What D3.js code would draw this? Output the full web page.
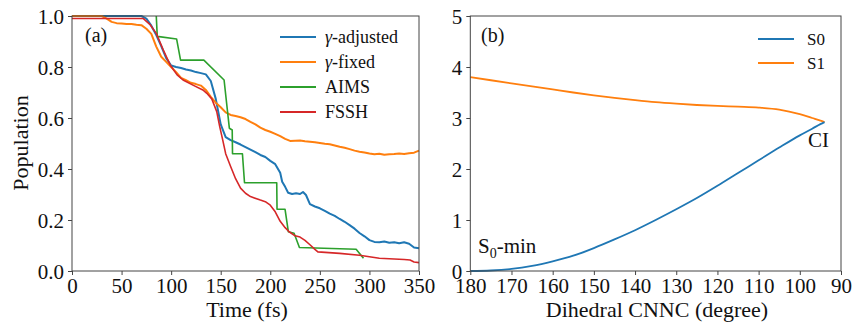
<!DOCTYPE html>
<html>
<head>
<meta charset="utf-8">
<script src="https://cdn.jsdelivr.net/npm/d3@7"></script>
<style>
  html, body { margin: 0; padding: 0; background: #fff; }
  svg { display: block; }
</style>
</head>
<body>
<svg id="chart" width="855" height="322" font-family="Liberation Serif"></svg>
<script>
// ---------- Panel (a): population vs time ----------
const popTicksX = [0, 50, 100, 150, 200, 250, 300, 350];
const popTicksY = [0.0, 0.2, 0.4, 0.6, 0.8, 1.0];

const adjustedTime = [0, 70, 75, 80, 85, 90, 95, 100, 105, 110, 115, 120, 125, 130, 135, 140, 145, 150, 155, 160, 165, 170, 175, 180, 185, 190, 195, 200, 205, 210, 212, 215, 218, 222, 226, 230, 233, 236, 240, 245, 250, 255, 260, 265, 270, 275, 280, 285, 290, 295, 300, 305, 310, 315, 320, 325, 330, 335, 340, 345, 350];
const adjustedPop  = [1.0, 1.0, 0.99, 0.962, 0.925, 0.882, 0.835, 0.806, 0.80, 0.796, 0.79, 0.786, 0.78, 0.776, 0.771, 0.745, 0.675, 0.575, 0.525, 0.513, 0.505, 0.496, 0.486, 0.476, 0.466, 0.455, 0.447, 0.432, 0.419, 0.385, 0.35, 0.33, 0.307, 0.302, 0.305, 0.302, 0.31, 0.298, 0.262, 0.253, 0.246, 0.236, 0.225, 0.216, 0.204, 0.193, 0.18, 0.166, 0.149, 0.136, 0.121, 0.114, 0.113, 0.116, 0.111, 0.113, 0.109, 0.113, 0.107, 0.092, 0.089];

const fixedTime = [0, 30, 35, 40, 45, 50, 55, 60, 65, 70, 75, 80, 85, 90, 95, 100, 105, 110, 115, 120, 125, 130, 135, 140, 145, 150, 155, 160, 165, 170, 175, 180, 185, 190, 195, 200, 205, 210, 215, 220, 225, 230, 235, 240, 245, 250, 255, 260, 265, 270, 275, 280, 285, 290, 295, 300, 305, 310, 315, 320, 325, 330, 335, 340, 345, 350];
const fixedPop  = [1.0, 1.0, 0.99, 0.977, 0.972, 0.971, 0.969, 0.969, 0.966, 0.964, 0.95, 0.93, 0.88, 0.84, 0.82, 0.80, 0.78, 0.757, 0.748, 0.738, 0.733, 0.727, 0.71, 0.683, 0.66, 0.642, 0.622, 0.612, 0.608, 0.603, 0.596, 0.585, 0.575, 0.562, 0.553, 0.546, 0.538, 0.529, 0.518, 0.51, 0.511, 0.512, 0.509, 0.507, 0.505, 0.502, 0.499, 0.497, 0.492, 0.487, 0.483, 0.478, 0.472, 0.468, 0.465, 0.461, 0.458, 0.46, 0.456, 0.458, 0.459, 0.461, 0.459, 0.462, 0.464, 0.472];

const aimsTime = [85, 86, 105.5, 109.5, 133, 153.4, 158.7, 161.6, 161.9, 171.9, 174, 206.5, 206.8, 214.9, 218.2, 224, 229.4, 286.6, 294];
const aimsPop  = [1.0, 0.92, 0.91, 0.827, 0.827, 0.749, 0.56, 0.553, 0.46, 0.46, 0.346, 0.346, 0.242, 0.242, 0.154, 0.148, 0.092, 0.085, 0.05];

const fsshTime = [0, 72, 79, 85, 92, 99, 106, 112, 122, 132, 136, 141, 146, 149, 152, 155, 160, 165, 170, 175, 180, 190, 195, 200, 205, 210, 215, 219, 225, 230, 235, 240, 245, 248, 270, 290, 300, 310, 320, 335, 341, 345, 350];
const fsshPop  = [0.99, 0.99, 0.965, 0.932, 0.867, 0.808, 0.769, 0.749, 0.729, 0.71, 0.697, 0.675, 0.625, 0.566, 0.514, 0.46, 0.41, 0.362, 0.325, 0.305, 0.292, 0.278, 0.272, 0.258, 0.232, 0.195, 0.17, 0.154, 0.138, 0.133, 0.12, 0.103, 0.085, 0.075, 0.069, 0.062, 0.056, 0.05, 0.048, 0.045, 0.043, 0.035, 0.033];

const popSeries = [
  { name: "adjusted", label: ["γ", "-adjusted"], color: "#1f77b4", width: 2.0, t: adjustedTime, v: adjustedPop },
  { name: "fixed",    label: ["γ", "-fixed"],    color: "#ff7f0e", width: 2.0, t: fixedTime,    v: fixedPop },
  { name: "AIMS",     label: [null, "AIMS"],     color: "#2ca02c", width: 1.6, t: aimsTime,     v: aimsPop },
  { name: "FSSH",     label: [null, "FSSH"],     color: "#d62728", width: 1.6, t: fsshTime,     v: fsshPop }
];

// ---------- Panel (b): energy vs dihedral ----------
const angleTicks = [180, 170, 160, 150, 140, 130, 120, 110, 100, 90];
const energyTicks = [0, 1, 2, 3, 4, 5];
const dihedral = [180, 175, 170, 165, 160, 155, 150, 145, 140, 135, 130, 125, 120, 115, 110, 105, 100, 97, 95, 94];
const energyS0 = [0.0, 0.01, 0.04, 0.1, 0.19, 0.3, 0.45, 0.62, 0.8, 1.0, 1.21, 1.43, 1.67, 1.92, 2.17, 2.42, 2.66, 2.79, 2.88, 2.92];
const energyS1 = [3.80, 3.74, 3.68, 3.62, 3.56, 3.50, 3.445, 3.395, 3.35, 3.31, 3.28, 3.255, 3.237, 3.222, 3.205, 3.165, 3.075, 3.0, 2.95, 2.92];

const SERIF = "Liberation Serif";
const svg = d3.select("#chart");
const axisColor = "#444";

// text helper: every label uses the serif face
function label(parent, x, y, size, str) {
  const t = parent.append("text")
    .attr("x", x).attr("y", y)
    .attr("font-family", SERIF).attr("font-size", size).attr("fill", "#111");
  if (str != null) t.text(str);
  return t;
}

function frame(g, x0, x1, y0, y1) {
  g.append("rect")
    .attr("x", x0).attr("y", y1)
    .attr("width", x1 - x0).attr("height", y0 - y1)
    .attr("fill", "none").attr("stroke", axisColor).attr("stroke-width", 1);
}

function drawAxes(g, x, y, xTicks, yTicks, xFmt, yFmt) {
  const [y0] = y.range();
  const [x0] = x.range();
  const ax = g.append("g").attr("transform", `translate(0,${y0})`)
    .call(d3.axisBottom(x).tickValues(xTicks).tickFormat(xFmt).tickSizeOuter(0).tickSize(4).tickPadding(3));
  const ay = g.append("g").attr("transform", `translate(${x0},0)`)
    .call(d3.axisLeft(y).tickValues(yTicks).tickFormat(yFmt).tickSizeOuter(0).tickSize(4).tickPadding(4));
  [ax, ay].forEach(a => {
    a.attr("font-family", SERIF).attr("font-size", 21);
    a.select(".domain").remove();
    a.selectAll("line").attr("stroke", axisColor);
    a.selectAll("text").attr("font-family", SERIF).attr("font-size", 21).attr("fill", "#111");
  });
  ax.selectAll("text").attr("dy", "0.72em");
  ay.selectAll("text").attr("dy", "0.34em");
}

// ----- Panel (a)
const ga = svg.append("g");
const xa = d3.scaleLinear().domain([0, 350]).range([72, 419]);
const ya = d3.scaleLinear().domain([0, 1]).range([271, 16]);

popSeries.forEach(s => {
  const pts = s.t.map((t, i) => [t, s.v[i]]);
  ga.append("path")
    .datum(pts)
    .attr("fill", "none")
    .attr("stroke", s.color)
    .attr("stroke-width", s.width)
    .attr("stroke-linejoin", "round")
    .attr("d", d3.line().x(d => xa(d[0])).y(d => ya(d[1])));
});

frame(ga, 72, 419, 271, 16);
drawAxes(ga, xa, ya, popTicksX, popTicksY, d3.format("d"), d3.format(".1f"));

label(ga, 85, 42, 20, "(a)");

popSeries.forEach((s, i) => {
  const yy = 37 + i * 25;
  ga.append("line").attr("x1", 280).attr("x2", 316).attr("y1", yy).attr("y2", yy)
    .attr("stroke", s.color).attr("stroke-width", 2);
  const t = label(ga, 325, yy + 6, 18, null);
  if (s.label[0]) t.append("tspan").attr("font-style", "italic").text(s.label[0]);
  t.append("tspan").text(s.label[1]);
});

label(ga, 0, 0, 22, "Population")
  .attr("transform", "translate(28,143) rotate(-90)")
  .attr("text-anchor", "middle");
label(ga, 247, 317, 22, "Time (fs)").attr("text-anchor", "middle");

// ----- Panel (b)
const gb = svg.append("g");
const xb = d3.scaleLinear().domain([180, 90]).range([470.3, 841]);
const yb = d3.scaleLinear().domain([0, 5]).range([271, 16]);

const energyLine = d3.line()
  .curve(d3.curveMonotoneX)
  .x((d, i) => xb(dihedral[i]))
  .y(d => yb(d));

gb.append("path").datum(energyS1).attr("fill", "none").attr("stroke", "#ff7f0e")
  .attr("stroke-width", 1.8).attr("d", energyLine);
gb.append("path").datum(energyS0).attr("fill", "none").attr("stroke", "#1f77b4")
  .attr("stroke-width", 1.8).attr("d", energyLine);

frame(gb, 470.3, 841, 271, 16);
drawAxes(gb, xb, yb, angleTicks, energyTicks, d3.format("d"), d3.format("d"));

label(gb, 481, 42, 20, "(b)");

[["S0", "#1f77b4"], ["S1", "#ff7f0e"]].forEach(([lab, col], i) => {
  const yy = 39 + i * 24;
  gb.append("line").attr("x1", 758).attr("x2", 794).attr("y1", yy).attr("y2", yy)
    .attr("stroke", col).attr("stroke-width", 2);
  label(gb, 807, yy + 6, 17, lab);
});

label(gb, 808, 147, 21, "CI");
const smin = label(gb, 478, 253, 21, null);
smin.append("tspan").text("S");
smin.append("tspan").attr("font-size", 14).attr("dy", 5).text("0");
smin.append("tspan").attr("dy", -5).text("-min");

label(gb, 657, 317, 22, "Dihedral CNNC (degree)").attr("text-anchor", "middle");
</script>
</body>
</html>
